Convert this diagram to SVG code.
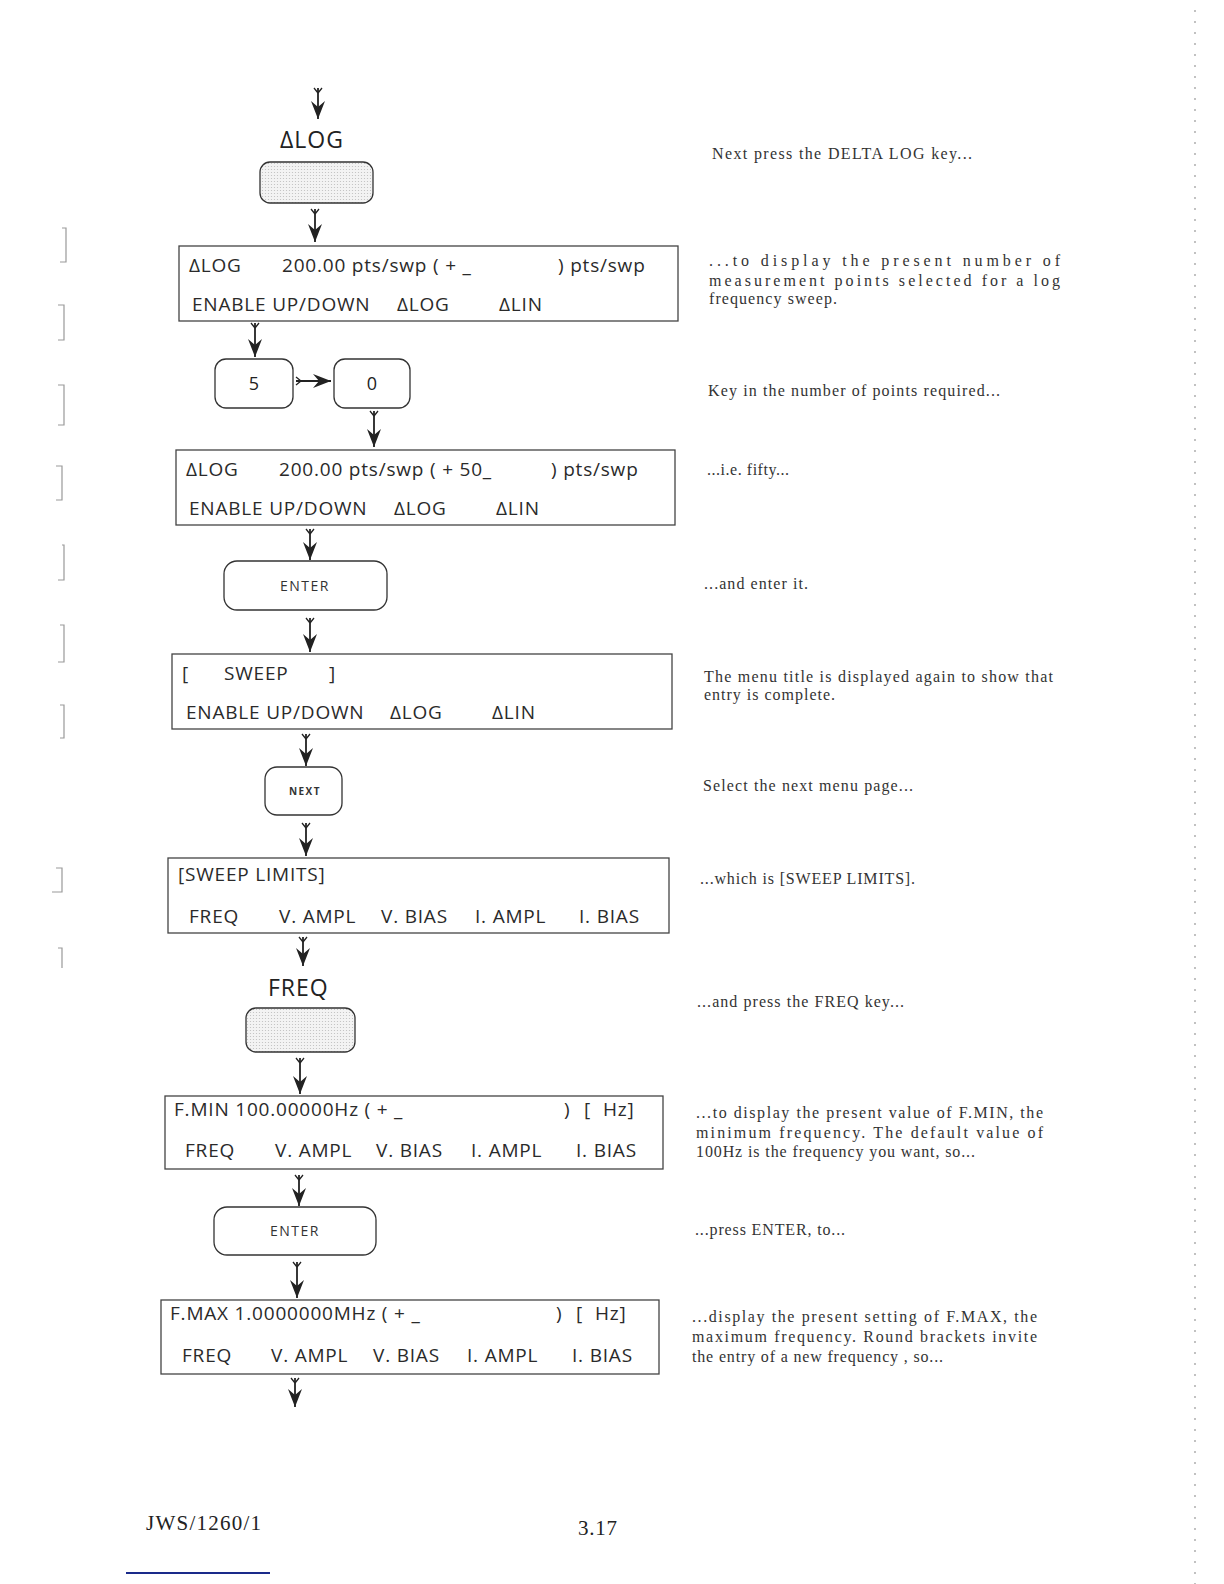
<svg xmlns="http://www.w3.org/2000/svg" width="1224" height="1584" viewBox="0 0 1224 1584">
<defs>
<style>
.disp{fill:#fff;stroke:#444;stroke-width:1.3}
.key{fill:#fff;stroke:#333;stroke-width:1.3}
.shaded{fill:url(#dots);stroke:#333;stroke-width:1.3}
.t{font-family:"Open Sans","Noto Sans",sans-serif;font-size:19px;fill:#2a2a2a;letter-spacing:0.8px}
.lbl{font-family:"Open Sans","Noto Sans",sans-serif;font-size:23px;fill:#222;letter-spacing:1px}
.kt{font-family:"Open Sans","Noto Sans",sans-serif;font-size:14px;fill:#333;letter-spacing:1.5px;text-anchor:middle}
.kn{font-family:"Open Sans","Noto Sans",sans-serif;font-size:10px;font-weight:bold;fill:#333;letter-spacing:1.5px;text-anchor:middle}
.num{font-family:"Open Sans","Noto Sans",sans-serif;font-size:18px;fill:#222;text-anchor:middle}
.note{font-family:"Liberation Serif","Times New Roman",serif;font-size:16px;fill:#333}
.foot{font-family:"Liberation Serif","Times New Roman",serif;font-size:21px;fill:#222}
.arr{stroke:#222;stroke-width:1.8;fill:none;marker-end:url(#head);marker-start:url(#fletch)}
.scan{stroke:#999;stroke-width:1.2;fill:none}
</style>
<pattern id="dots" width="3" height="3" patternUnits="userSpaceOnUse">
<rect width="3" height="3" fill="#f3f3f3"/>
<circle cx="1.5" cy="1.5" r="0.6" fill="#bdbdbd"/>
</pattern>
<marker id="head" viewBox="-20 -9 22 18" refX="0" refY="0" markerWidth="22" markerHeight="18" markerUnits="userSpaceOnUse" orient="auto">
<path d="M0,0 L-18,-7 L-12,0 L-18,7 Z" fill="#222"/>
</marker>
<marker id="fletch" viewBox="-2 -6 10 12" refX="0" refY="0" markerWidth="10" markerHeight="12" markerUnits="userSpaceOnUse" orient="auto">
<path d="M5,0 L0,-4 M5,0 L0,4" stroke="#222" stroke-width="1.3" fill="none"/>
</marker>
</defs>
<rect width="1224" height="1584" fill="#fff"/>

<!-- scan margin marks -->
<g id="margin-marks">
<path class="scan" d="M62,228 L66,228 L66,262 L60,262"/>
<path class="scan" d="M58,305 L64,305 L64,340 L58,340"/>
<path class="scan" d="M58,385 L64,385 L64,425 L58,425"/>
<path class="scan" d="M56,466 L62,466 L62,500 L56,500"/>
<path class="scan" d="M62,545 L64,545 L64,580 L58,580"/>
<path class="scan" d="M60,625 L64,625 L64,662 L58,662"/>
<path class="scan" d="M60,705 L64,705 L64,738 L60,738"/>
<path class="scan" d="M56,868 L62,868 L62,892 L52,892"/>
<path class="scan" d="M58,948 L62,948 L62,968"/>
<path class="scan" d="M1195,10 L1195,1584" stroke-dasharray="2 9" stroke="#bbb"/>
</g>

<!-- connectors -->
<g id="connectors">
<line class="arr" x1="318" y1="88" x2="318" y2="119"/>
<line class="arr" x1="315" y1="209" x2="315" y2="242"/>
<line class="arr" x1="255" y1="323" x2="255" y2="357"/>
<line class="arr" x1="296" y1="381" x2="331" y2="381"/>
<line class="arr" x1="374" y1="411" x2="374" y2="447"/>
<line class="arr" x1="310" y1="529" x2="310" y2="560"/>
<line class="arr" x1="310" y1="618" x2="310" y2="652"/>
<line class="arr" x1="306" y1="734" x2="306" y2="766"/>
<line class="arr" x1="306" y1="823" x2="306" y2="856"/>
<line class="arr" x1="303" y1="937" x2="303" y2="966"/>
<line class="arr" x1="300" y1="1058" x2="300" y2="1094"/>
<line class="arr" x1="299" y1="1175" x2="299" y2="1206"/>
<line class="arr" x1="297" y1="1262" x2="297" y2="1298"/>
<line class="arr" x1="295" y1="1378" x2="295" y2="1407"/>
</g>

<!-- nodes -->
<g id="key-dlog">
<text class="lbl" x="280" y="148">ΔLOG</text>
<rect class="shaded" x="260" y="162" width="113" height="41" rx="10"/>
</g>

<g id="display-1">
<rect class="disp" x="179" y="246" width="499" height="75"/>
<text class="t" x="189" y="272">ΔLOG</text>
<text class="t" x="282" y="272">200.00 pts/swp ( + _</text>
<text class="t" x="558" y="272">) pts/swp</text>
<text class="t" x="192" y="311">ENABLE UP/DOWN</text>
<text class="t" x="397" y="311">ΔLOG</text>
<text class="t" x="499" y="311">ΔLIN</text>
</g>

<g id="key-5">
<rect class="key" x="215" y="359" width="78" height="49" rx="11"/>
<text class="num" x="254" y="390">5</text>
</g>

<g id="key-0">
<rect class="key" x="334" y="359" width="76" height="49" rx="11"/>
<text class="num" x="372" y="390">0</text>
</g>

<g id="display-2">
<rect class="disp" x="176" y="450" width="499" height="75"/>
<text class="t" x="186" y="476">ΔLOG</text>
<text class="t" x="279" y="476">200.00 pts/swp ( + 50_</text>
<text class="t" x="551" y="476">) pts/swp</text>
<text class="t" x="189" y="515">ENABLE UP/DOWN</text>
<text class="t" x="394" y="515">ΔLOG</text>
<text class="t" x="496" y="515">ΔLIN</text>
</g>

<g id="key-enter-1">
<rect class="key" x="224" y="561" width="163" height="49" rx="13"/>
<text class="kt" x="305" y="591">ENTER</text>
</g>

<g id="display-3">
<rect class="disp" x="172" y="654" width="500" height="75"/>
<text class="t" x="182" y="680">[</text>
<text class="t" x="224" y="680">SWEEP</text>
<text class="t" x="329" y="680">]</text>
<text class="t" x="186" y="719">ENABLE UP/DOWN</text>
<text class="t" x="390" y="719">ΔLOG</text>
<text class="t" x="492" y="719">ΔLIN</text>
</g>

<g id="key-next">
<rect class="key" x="265" y="767" width="77" height="48" rx="12"/>
<text class="kn" x="305" y="795">NEXT</text>
</g>

<g id="display-4">
<rect class="disp" x="168" y="858" width="501" height="75"/>
<text class="t" x="178" y="881">[SWEEP LIMITS]</text>
<text class="t" x="189" y="923">FREQ</text>
<text class="t" x="279" y="923">V. AMPL</text>
<text class="t" x="381" y="923">V. BIAS</text>
<text class="t" x="475" y="923">I. AMPL</text>
<text class="t" x="579" y="923">I. BIAS</text>
</g>

<g id="key-freq">
<text class="lbl" x="268" y="996">FREQ</text>
<rect class="shaded" x="246" y="1008" width="109" height="44" rx="10"/>
</g>

<g id="display-5">
<rect class="disp" x="165" y="1096" width="498" height="73"/>
<text class="t" x="174" y="1116">F.MIN 100.00000Hz ( + _</text>
<text class="t" x="564" y="1116">)</text>
<text class="t" x="584" y="1116">[</text>
<text class="t" x="603" y="1116">Hz]</text>
<text class="t" x="185" y="1157">FREQ</text>
<text class="t" x="275" y="1157">V. AMPL</text>
<text class="t" x="376" y="1157">V. BIAS</text>
<text class="t" x="471" y="1157">I. AMPL</text>
<text class="t" x="576" y="1157">I. BIAS</text>
</g>

<g id="key-enter-2">
<rect class="key" x="214" y="1207" width="162" height="48" rx="13"/>
<text class="kt" x="295" y="1236">ENTER</text>
</g>

<g id="display-6">
<rect class="disp" x="161" y="1300" width="498" height="74"/>
<text class="t" x="170" y="1320">F.MAX 1.0000000MHz ( + _</text>
<text class="t" x="556" y="1320">)</text>
<text class="t" x="576" y="1320">[</text>
<text class="t" x="595" y="1320">Hz]</text>
<text class="t" x="182" y="1362">FREQ</text>
<text class="t" x="271" y="1362">V. AMPL</text>
<text class="t" x="373" y="1362">V. BIAS</text>
<text class="t" x="467" y="1362">I. AMPL</text>
<text class="t" x="572" y="1362">I. BIAS</text>
</g>

<!-- notes -->
<g id="notes">
<text class="note" x="712" y="159" textLength="260" lengthAdjust="spacing">Next press the DELTA LOG key...</text>
<text class="note" x="709" y="266" textLength="351" lengthAdjust="spacing">...to display the present number of</text>
<text class="note" x="709" y="286" textLength="351" lengthAdjust="spacing">measurement points selected for a log</text>
<text class="note" x="709" y="304" textLength="128" lengthAdjust="spacing">frequency sweep.</text>
<text class="note" x="708" y="396" textLength="292" lengthAdjust="spacing">Key in the number of points required...</text>
<text class="note" x="707" y="475" textLength="82" lengthAdjust="spacing">...i.e. fifty...</text>
<text class="note" x="704" y="589" textLength="104" lengthAdjust="spacing">...and enter it.</text>
<text class="note" x="704" y="682" textLength="349" lengthAdjust="spacing">The menu title is displayed again to show that</text>
<text class="note" x="704" y="700" textLength="131" lengthAdjust="spacing">entry is complete.</text>
<text class="note" x="703" y="791" textLength="210" lengthAdjust="spacing">Select the next menu page...</text>
<text class="note" x="700" y="884" textLength="215" lengthAdjust="spacing">...which is [SWEEP LIMITS].</text>
<text class="note" x="697" y="1007" textLength="207" lengthAdjust="spacing">...and press the FREQ key...</text>
<text class="note" x="696" y="1118" textLength="347" lengthAdjust="spacing">...to display the present value of F.MIN, the</text>
<text class="note" x="696" y="1138" textLength="347" lengthAdjust="spacing">minimum frequency.  The default value of</text>
<text class="note" x="696" y="1157" textLength="279" lengthAdjust="spacing">100Hz is the frequency you want, so...</text>
<text class="note" x="695" y="1235" textLength="150" lengthAdjust="spacing">...press ENTER, to...</text>
<text class="note" x="692" y="1322" textLength="345" lengthAdjust="spacing">...display the present setting of F.MAX, the</text>
<text class="note" x="692" y="1342" textLength="345" lengthAdjust="spacing">maximum frequency.  Round brackets invite</text>
<text class="note" x="692" y="1362" textLength="251" lengthAdjust="spacing">the entry of a new frequency , so...</text>
</g>

<g id="footer">
<text class="foot" x="146" y="1530" textLength="115" lengthAdjust="spacing">JWS/1260/1</text>
<text class="foot" x="578" y="1535" textLength="39" lengthAdjust="spacing">3.17</text>
<line x1="126" y1="1573" x2="270" y2="1573" stroke="#1a2a8a" stroke-width="2"/>
</g>
</svg>
